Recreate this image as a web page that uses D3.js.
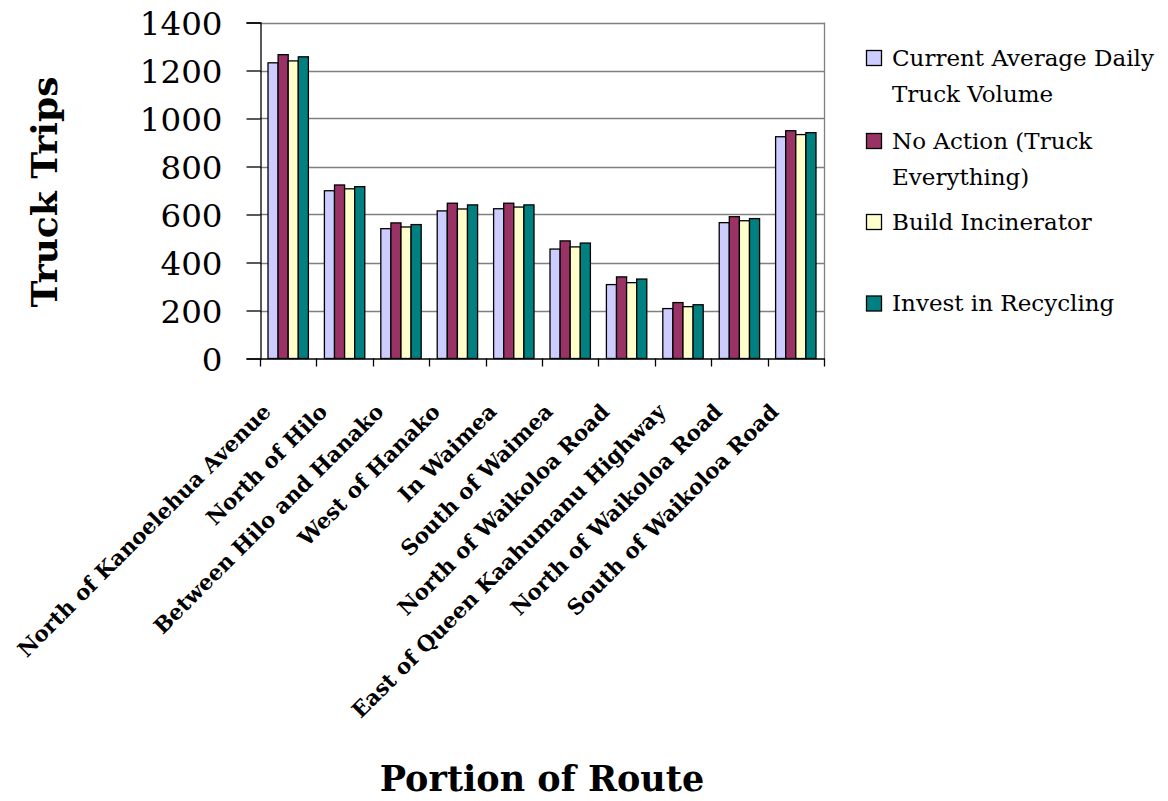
<!DOCTYPE html>
<html>
<head>
<meta charset="utf-8">
<script src="https://cdn.jsdelivr.net/npm/d3@7"></script>
<style>
  html, body { margin: 0; padding: 0; background: #fff; }
  svg { display: block; }
  text { font-family: "DejaVu Serif", "Liberation Serif", serif; fill: #000; }
</style>
</head>
<body>
<svg id="chart" width="1168" height="801"></svg>
<script>
// Portions of the truck route
const categories = [
  "North of Kanoelehua Avenue",
  "North of Hilo",
  "Between Hilo and Hanako",
  "West of Hanako",
  "In Waimea",
  "South of Waimea",
  "North of Waikoloa Road",
  "East of Queen Kaahumanu Highway",
  "North of Waikoloa Road",
  "South of Waikoloa Road"
];

// Daily truck trips per scenario
const currentVolume = [1232, 699, 541, 615, 624, 456, 308, 208, 566, 924];
const noAction      = [1266, 723, 565, 647, 647, 490, 340, 233, 591, 949];
const incinerator   = [1240, 707, 548, 623, 631, 465, 316, 216, 574, 933];
const recycling     = [1257, 716, 558, 640, 640, 481, 331, 224, 583, 941];

const seriesNames = [
  "Current Average Daily Truck Volume",
  "No Action (Truck Everything)",
  "Build Incinerator",
  "Invest in Recycling"
];
const legendLines = [
  ["Current Average Daily", "Truck Volume"],
  ["No Action (Truck", "Everything)"],
  ["Build Incinerator"],
  ["Invest in Recycling"]
];
const seriesColors = ["#CCCCFF", "#993366", "#FFFFCC", "#008080"];
const yTicks = [0, 200, 400, 600, 800, 1000, 1200, 1400];

const seriesValues = [currentVolume, noAction, incinerator, recycling];

const svg = d3.select("#chart");
const plot = { left: 260, right: 824, top: 22.5, bottom: 358.5 };

const x = d3.scaleBand()
  .domain(d3.range(categories.length))
  .range([plot.left, plot.right])
  .paddingInner(0.284)
  .paddingOuter(0.142);

const xInner = d3.scaleBand()
  .domain(d3.range(seriesNames.length))
  .range([0, x.bandwidth()]);

const y = d3.scaleLinear()
  .domain([0, 1400])
  .range([plot.bottom, plot.top]);

// Horizontal gridlines
svg.append("g")
  .selectAll("line")
  .data(yTicks.filter(d => d > 0))
  .join("line")
  .attr("x1", plot.left).attr("x2", plot.right)
  .attr("y1", d => Math.round(y(d)) + 0.5)
  .attr("y2", d => Math.round(y(d)) + 0.5)
  .attr("stroke", "#808080")
  .attr("stroke-width", 1.3);

// Right border of the plot area
svg.append("line")
  .attr("x1", plot.right + 0.5).attr("x2", plot.right + 0.5)
  .attr("y1", plot.top).attr("y2", plot.bottom)
  .attr("stroke", "#808080")
  .attr("stroke-width", 1.3);

// Bars
const groups = svg.append("g")
  .selectAll("g")
  .data(categories.map((c, i) => i))
  .join("g")
  .attr("transform", i => `translate(${x(i)},0)`);

groups.selectAll("rect")
  .data(i => seriesValues.map((vals, s) => ({ s, v: vals[i] })))
  .join("rect")
  .attr("x", d => xInner(d.s))
  .attr("y", d => y(d.v))
  .attr("width", xInner.bandwidth())
  .attr("height", d => y(0) - y(d.v))
  .attr("fill", d => seriesColors[d.s])
  .attr("stroke", "#000")
  .attr("stroke-width", 1.3);

// Y axis
const yAxis = d3.axisLeft(y)
  .tickValues(yTicks)
  .tickSize(14)
  .tickPadding(24)
  .tickFormat(d3.format("d"));

const yg = svg.append("g")
  .attr("transform", `translate(${plot.left + 0.5},0)`)
  .call(yAxis);
yg.select(".domain").attr("stroke", "#000").attr("stroke-width", 1.3);
yg.selectAll(".tick line").attr("stroke", "#000").attr("stroke-width", 1.3);
yg.selectAll(".tick text")
  .attr("font-family", "DejaVu Serif")
  .attr("font-size", 32.5)
  .attr("dy", "0.36em");

// X axis: ticks at category boundaries
const boundaries = d3.range(categories.length + 1)
  .map(i => plot.left + i * x.step());
svg.append("line")
  .attr("x1", plot.left).attr("x2", plot.right + 1)
  .attr("y1", plot.bottom + 0.5).attr("y2", plot.bottom + 0.5)
  .attr("stroke", "#000").attr("stroke-width", 1.3);
svg.append("g")
  .selectAll("line")
  .data(boundaries)
  .join("line")
  .attr("x1", d => Math.round(d) + 0.5).attr("x2", d => Math.round(d) + 0.5)
  .attr("y1", plot.bottom).attr("y2", plot.bottom + 8)
  .attr("stroke", "#000").attr("stroke-width", 1.3);

// Category labels, rotated 45 degrees
svg.append("g")
  .selectAll("text")
  .data(categories)
  .join("text")
  .attr("transform", (d, i) => {
    const cx = x(i) + x.bandwidth() / 2 - 16;
    return `translate(${cx},413) rotate(-45)`;
  })
  .attr("text-anchor", "end")
  .attr("font-weight", "bold")
  .attr("font-size", 21.5)
  .text(d => d);

// Axis titles
svg.append("text")
  .attr("transform", "translate(57,192) rotate(-90)")
  .attr("text-anchor", "middle")
  .attr("font-weight", "bold")
  .attr("font-size", 36)
  .text("Truck Trips");

svg.append("text")
  .attr("x", 542)
  .attr("y", 791)
  .attr("text-anchor", "middle")
  .attr("font-weight", "bold")
  .attr("font-size", 35)
  .text("Portion of Route");

// Legend
const legendBaselines = [65.5, 148.5, 229.5, 311];
const legend = svg.append("g");
legendLines.forEach((lines, s) => {
  const by = legendBaselines[s];
  legend.append("rect")
    .attr("x", 866.5).attr("y", by - 15)
    .attr("width", 15).attr("height", 15)
    .attr("fill", seriesColors[s])
    .attr("stroke", "#000")
    .attr("stroke-width", 1.3);
  const t = legend.append("text")
    .attr("x", 892)
    .attr("y", by)
    .attr("font-size", 23);
  lines.forEach((ln, k) => {
    t.append("tspan")
      .attr("x", 892)
      .attr("dy", k === 0 ? 0 : 36)
      .text(ln);
  });
});
</script>
</body>
</html>
